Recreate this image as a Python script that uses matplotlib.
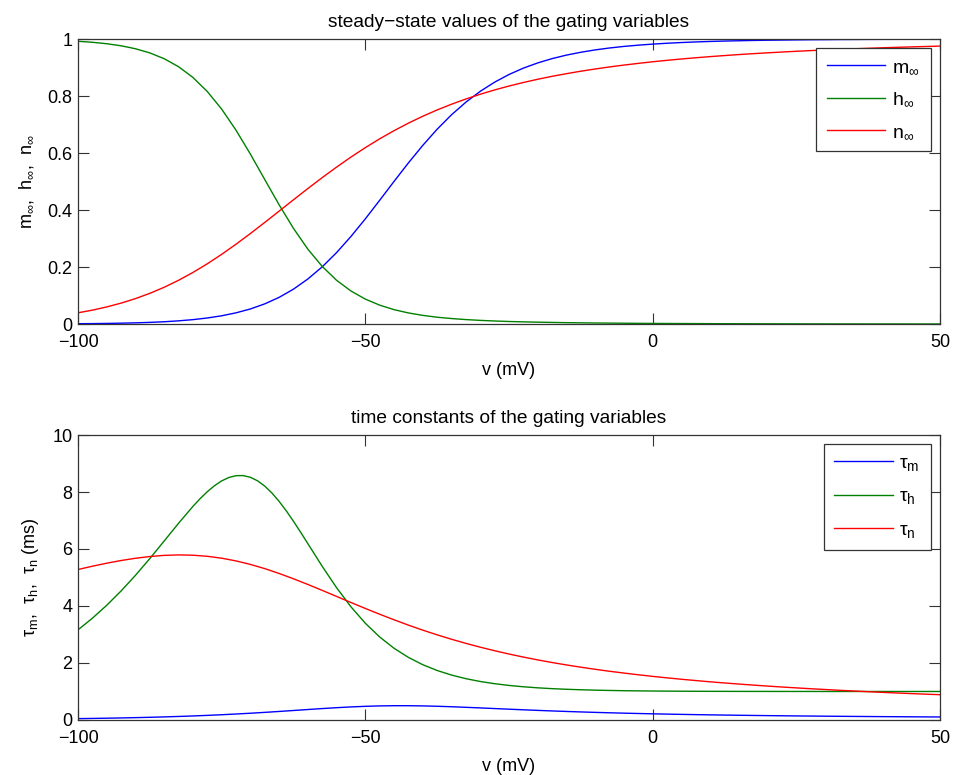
import numpy as np
import matplotlib
matplotlib.use("Agg")
import matplotlib.pyplot as plt

plt.rcParams['font.family'] = ['Liberation Sans', 'DejaVu Sans']
plt.rcParams['mathtext.fontset'] = 'custom'
plt.rcParams['mathtext.rm'] = 'Liberation Sans'
plt.rcParams['mathtext.it'] = 'Liberation Sans'
plt.rcParams['axes.unicode_minus'] = True

# membrane potential grid (mV), 2.5 mV steps
v = np.arange(-100, 50.01, 2.5)
# tau_h is sampled finer around its peak
v_tau_h = np.concatenate([np.arange(-100, -80, 2.5),
                          np.arange(-80, -60, 1.25),
                          np.arange(-60, 50.01, 2.5)])

# steady-state values of the gating variables
m_inf = [0.0011, 0.0015, 0.0021, 0.0030, 0.0041, 0.0058, 0.0080, 0.0112, 0.0154, 0.0212,
         0.0289, 0.0393, 0.0529, 0.0708, 0.0936, 0.1225, 0.1581, 0.2008, 0.2508, 0.3074,
         0.3692, 0.4344, 0.5007, 0.5656, 0.6271, 0.6838, 0.7344, 0.7786, 0.8167, 0.8488,
         0.8757, 0.8980, 0.9163, 0.9314, 0.9437, 0.9537, 0.9620, 0.9687, 0.9742, 0.9786,
         0.9823, 0.9853, 0.9878, 0.9899, 0.9916, 0.9930, 0.9941, 0.9951, 0.9959, 0.9965,
         0.9971, 0.9976, 0.9979, 0.9983, 0.9985, 0.9988, 0.9990, 0.9991, 0.9993, 0.9994,
         0.9995]
h_inf = [0.9922, 0.9887, 0.9836, 0.9764, 0.9660, 0.9514, 0.9310, 0.9029, 0.8652, 0.8159,
         0.7541, 0.6800, 0.5961, 0.5069, 0.4182, 0.3354, 0.2626, 0.2020, 0.1534, 0.1158,
         0.0874, 0.0662, 0.0504, 0.0389, 0.0303, 0.0239, 0.0192, 0.0156, 0.0128, 0.0106,
         0.0089, 0.0076, 0.0065, 0.0056, 0.0048, 0.0042, 0.0036, 0.0032, 0.0028, 0.0024,
         0.0021, 0.0019, 0.0017, 0.0015, 0.0013, 0.0011, 0.0010, 0.0009, 0.0008, 0.0007,
         0.0006, 0.0005, 0.0005, 0.0004, 0.0004, 0.0003, 0.0003, 0.0003, 0.0002, 0.0002,
         0.0002]
n_inf = [0.0394, 0.0487, 0.0600, 0.0734, 0.0892, 0.1077, 0.1291, 0.1535, 0.1810, 0.2114,
         0.2446, 0.2802, 0.3177, 0.3566, 0.3963, 0.4361, 0.4755, 0.5139, 0.5508, 0.5860,
         0.6190, 0.6500, 0.6786, 0.7050, 0.7292, 0.7513, 0.7714, 0.7897, 0.8064, 0.8215,
         0.8352, 0.8476, 0.8590, 0.8693, 0.8786, 0.8872, 0.8950, 0.9022, 0.9087, 0.9147,
         0.9203, 0.9254, 0.9301, 0.9344, 0.9384, 0.9421, 0.9456, 0.9488, 0.9517, 0.9545,
         0.9571, 0.9595, 0.9617, 0.9638, 0.9658, 0.9676, 0.9694, 0.9710, 0.9725, 0.9739,
         0.9753]

# time constants (ms)
tau_m = [0.0472, 0.0542, 0.0622, 0.0714, 0.0820, 0.0940, 0.1078, 0.1235, 0.1412, 0.1613,
         0.1839, 0.2090, 0.2368, 0.2669, 0.2991, 0.3328, 0.3669, 0.4001, 0.4310, 0.4578,
         0.4790, 0.4935, 0.5007, 0.5005, 0.4935, 0.4810, 0.4642, 0.4444, 0.4230, 0.4008,
         0.3786, 0.3570, 0.3364, 0.3170, 0.2989, 0.2821, 0.2665, 0.2522, 0.2391, 0.2270,
         0.2159, 0.2056, 0.1962, 0.1876, 0.1795, 0.1721, 0.1653, 0.1589, 0.1530, 0.1475,
         0.1423, 0.1375, 0.1330, 0.1288, 0.1248, 0.1210, 0.1175, 0.1142, 0.1110, 0.1080,
         0.1052]
tau_h = [3.163, 3.571, 4.026, 4.528, 5.077, 5.666, 6.282, 6.904,
         7.496, 7.767, 8.011, 8.221, 8.390, 8.509, 8.573, 8.576,
         8.516, 8.392, 8.206, 7.963, 7.670, 7.336, 6.971, 6.584,
         6.186, 5.390, 4.640, 3.970, 3.393, 2.911, 2.515, 2.195, 1.939, 1.736,
         1.576, 1.449, 1.350, 1.273, 1.212, 1.165, 1.128, 1.099, 1.077, 1.060,
         1.046, 1.036, 1.027, 1.021, 1.016, 1.012, 1.009, 1.007, 1.005, 1.004,
         1.003, 1.002, 1.002, 1.001, 1.001, 1.001, 1.000, 1.000, 1.000, 1.000,
         1.000, 1.000, 1.000, 1.000, 1.000]
tau_n = [5.280, 5.396, 5.502, 5.596, 5.675, 5.736, 5.776, 5.792, 5.782, 5.744,
         5.677, 5.581, 5.459, 5.311, 5.141, 4.954, 4.755, 4.547, 4.335, 4.122,
         3.913, 3.710, 3.515, 3.328, 3.152, 2.987, 2.832, 2.688, 2.554, 2.430,
         2.314, 2.207, 2.108, 2.016, 1.931, 1.852, 1.778, 1.709, 1.646, 1.586,
         1.530, 1.478, 1.429, 1.383, 1.339, 1.299, 1.260, 1.224, 1.189, 1.157,
         1.126, 1.096, 1.069, 1.042, 1.017, 0.992, 0.969, 0.947, 0.926, 0.906,
         0.887]

BLUE, GREEN, RED = (0, 0, 1), (0, 0.5, 0), (1, 0, 0)
FS = 13


def style_axes(ax, yticks):
    ax.set_xlim(-100, 50)
    ax.set_xticks([-100, -50, 0, 50])
    ax.set_yticks(yticks)
    ax.tick_params(direction='in', length=8, width=0.8, top=True, right=True,
                   labelsize=FS, color='#333333')
    ax.tick_params(axis='x', pad=7)
    ax.tick_params(axis='y', pad=4)
    for s in ax.spines.values():
        s.set_linewidth(0.9)
        s.set_color('#333333')
    ax.set_xlabel('v (mV)', fontsize=FS, labelpad=8)


def add_legend(ax):
    leg = ax.legend(loc='upper right', bbox_to_anchor=(0.989, 0.969), fontsize=FS + 1,
                    fancybox=False, edgecolor='#333333', framealpha=1,
                    handlelength=3.0, handletextpad=0.35, labelspacing=0.75,
                    borderpad=0.55, borderaxespad=0)
    leg.get_frame().set_linewidth(0.9)
    return leg


fig = plt.figure(figsize=(9.56, 7.75), dpi=100)

# top panel: steady states
ax1 = fig.add_axes([0.0816, 0.5819, 0.9017, 0.3677])
ax1.plot(v, m_inf, color=BLUE, lw=1.0, label=r'm$_\infty$')
ax1.plot(v, h_inf, color=GREEN, lw=1.0, label=r'h$_\infty$')
ax1.plot(v, n_inf, color=RED, lw=1.0, label=r'n$_\infty$')
ax1.set_ylim(0, 1)
style_axes(ax1, [0, 0.2, 0.4, 0.6, 0.8, 1])
ax1.set_yticklabels(['0', '0.2', '0.4', '0.6', '0.8', '1'])
ax1.set_ylabel(r'm$_\infty$,  h$_\infty$,  n$_\infty$', fontsize=FS, labelpad=8)
ax1.set_title('steady\u2212state values of the gating variables', fontsize=FS + 0.8, pad=9)
add_legend(ax1)

# bottom panel: time constants
ax2 = fig.add_axes([0.0816, 0.071, 0.9017, 0.3677])
ax2.plot(v, tau_m, color=BLUE, lw=1.0, label=r'$\mathrm{τ}_\mathrm{m}$')
ax2.plot(v_tau_h, tau_h, color=GREEN, lw=1.0, label=r'$\mathrm{τ}_\mathrm{h}$')
ax2.plot(v, tau_n, color=RED, lw=1.0, label=r'$\mathrm{τ}_\mathrm{n}$')
ax2.set_ylim(0, 10)
style_axes(ax2, [0, 2, 4, 6, 8, 10])
ax2.set_ylabel(r'$\mathrm{τ}_\mathrm{m}$,  $\mathrm{τ}_\mathrm{h}$,  $\mathrm{τ}_\mathrm{n}$ (ms)',
               fontsize=FS, labelpad=8)
ax2.set_title('time constants of the gating variables', fontsize=FS + 0.8, pad=9)
add_legend(ax2)

fig.savefig('out.png', dpi=100, facecolor='white')
